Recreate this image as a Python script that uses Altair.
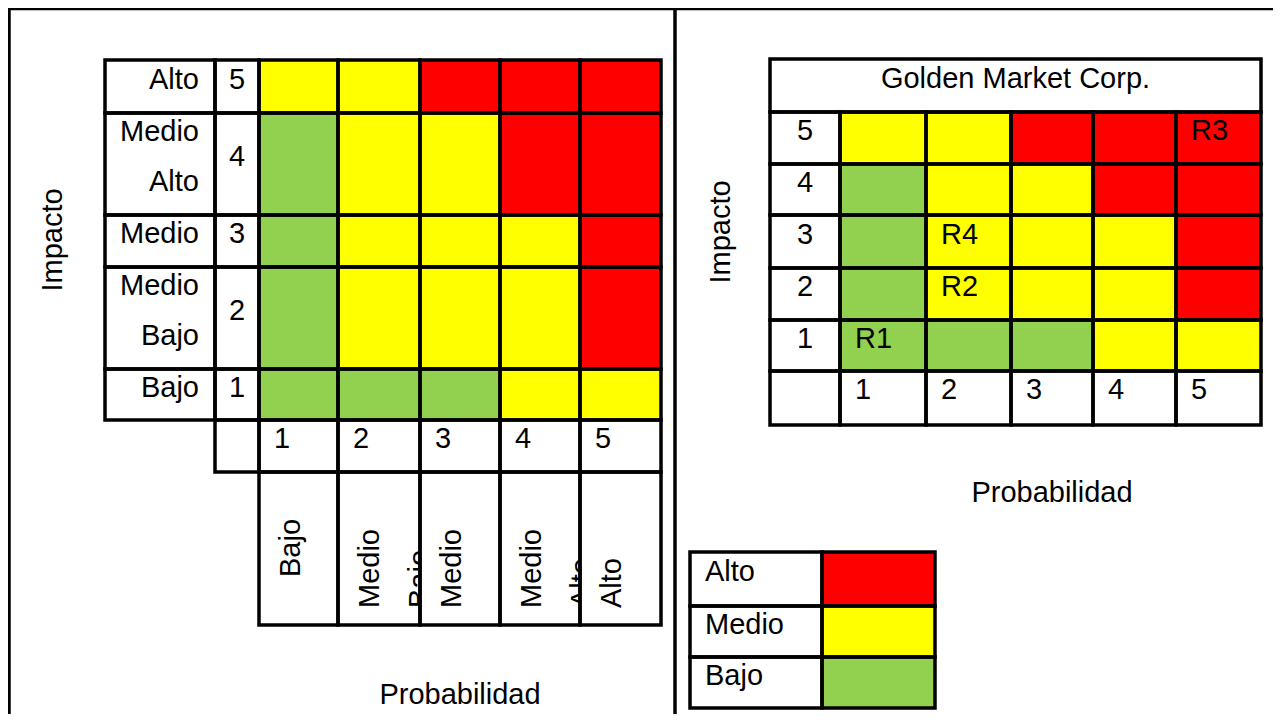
import altair as alt
import pandas as pd

# ---------------- data ----------------
levels = ["Alto", "Medio", "Bajo"]
level_colors = ["#FF0000", "#FFFF00", "#92D050"]
impact_values = [5, 4, 3, 2, 1]
prob_values = [1, 2, 3, 4, 5]
# risk level per cell: rows = impact 5..1, columns = probability 1..5
matrix = [
    ["Medio", "Medio", "Alto", "Alto", "Alto"],
    ["Bajo", "Medio", "Medio", "Alto", "Alto"],
    ["Bajo", "Medio", "Medio", "Medio", "Alto"],
    ["Bajo", "Medio", "Medio", "Medio", "Alto"],
    ["Bajo", "Bajo", "Bajo", "Medio", "Medio"],
]
impact_labels = [["Alto"], ["Medio", "Alto"], ["Medio"], ["Medio", "Bajo"], ["Bajo"]]
prob_labels = [["Bajo"], ["Medio", "Bajo"], ["Medio"], ["Medio", "Alto"], ["Alto"]]
risk_names = ["R1", "R2", "R3", "R4"]
risk_prob = [1, 2, 5, 2]
risk_impact = [1, 2, 5, 3]
company = "Golden Market Corp."
title_impact = "Impacto"
title_prob = "Probabilidad"

# ---------------- layout (page pixels) ----------------
W, H = 1265, 706
ORG = 8
FONT = "Liberation Sans"
FS = 29
LW = 3.5
L_x = [105, 215, 259, 338, 420, 500, 580, 661]
L_y = [60, 113, 215, 267, 369, 420, 472, 625]
L_rot_start = [577, 608, 608, 608, 608]
R_x = [770, 840, 926, 1011, 1093, 1176, 1261]
R_y = [59, 112, 164, 215, 268, 320, 371, 425]
G_x = [690, 822, 935]
G_y = [552, 606, 657, 708]
frame = [(7.3, 8.5, 1300, 8.5), (9, 6.8, 9, 740), (675, 8.5, 675, 740)]
axis_titles = [  # (x, y, text, rotated)
    (53, 240, title_impact, True),
    (460, 695, title_prob, False),
    (721, 232, title_impact, True),
    (1052, 493, title_prob, False),
]

cells, t_center, t_left, t_right, t_rot_c, t_rot_l, t_clip = [], [], [], [], [], [], []


def cell(x, x2, y, y2, level=None, src=False):
    cells.append(dict(x=x, x2=x2, y=y, y2=y2, level=level, src=src))


# ---- left matrix ----
for i, imp in enumerate(impact_values):
    y0, y1 = L_y[i], L_y[i + 1]
    cy = (y0 + y1) / 2
    cell(L_x[0], L_x[1], y0, y1)
    cell(L_x[1], L_x[2], y0, y1)
    lines = impact_labels[i]
    offs = [-7] if len(lines) == 1 else [-32, 18]
    for ln, o in zip(lines, offs):
        t_right.append(dict(x=L_x[1] - 16, y=cy + o, t=ln))
    t_center.append(dict(x=(L_x[1] + L_x[2]) / 2, y=cy - 7, t=str(imp)))
    for j in range(5):
        cell(L_x[2 + j], L_x[3 + j], y0, y1, matrix[i][j])
cell(L_x[1], L_x[2], L_y[5], L_y[6])
for j, p in enumerate(prob_values):
    cell(L_x[2 + j], L_x[3 + j], L_y[5], L_y[6])
    t_left.append(dict(x=L_x[2 + j] + 15, y=(L_y[5] + L_y[6]) / 2 - 7, t=str(p)))
    lines = prob_labels[j]
    cell(L_x[2 + j], L_x[3 + j], L_y[6], L_y[7], src=len(lines) > 1)
    t_rot_l.append(dict(x=L_x[2 + j] + 41, y=L_rot_start[j], t=lines[0]))
    if len(lines) > 1:
        t_clip.append(dict(x=L_x[2 + j] + 91, y=L_rot_start[j], t=lines[1]))

# ---- right matrix ----
cell(R_x[0], R_x[6], R_y[0], R_y[1])
t_center.append(dict(x=(R_x[0] + R_x[6]) / 2, y=(R_y[0] + R_y[1]) / 2 - 7, t=company))
for i, imp in enumerate(impact_values):
    y0, y1 = R_y[1 + i], R_y[2 + i]
    cell(R_x[0], R_x[1], y0, y1)
    t_center.append(dict(x=(R_x[0] + R_x[1]) / 2, y=(y0 + y1) / 2 - 7, t=str(imp)))
    for j in range(5):
        cell(R_x[1 + j], R_x[2 + j], y0, y1, matrix[i][j])
cell(R_x[0], R_x[1], R_y[6], R_y[7])
for j, p in enumerate(prob_values):
    cell(R_x[1 + j], R_x[2 + j], R_y[6], R_y[7])
    t_left.append(dict(x=R_x[1 + j] + 15, y=(R_y[6] + R_y[7]) / 2 - 8, t=str(p)))
for name, p, imp in zip(risk_names, risk_prob, risk_impact):
    i = impact_values.index(imp)
    j = prob_values.index(p)
    t_left.append(dict(x=R_x[1 + j] + 15, y=(R_y[1 + i] + R_y[2 + i]) / 2 - 7, t=name))

# ---- legend ----
for k, lev in enumerate(levels):
    cell(G_x[0], G_x[1], G_y[k], G_y[k + 1])
    cell(G_x[1], G_x[2], G_y[k], G_y[k + 1], lev)
    t_left.append(dict(x=G_x[0] + 15, y=(G_y[k] + G_y[k + 1]) / 2 - 7, t=lev))

# ---- axis titles ----
for x, y, t, rot in axis_titles:
    (t_rot_c if rot else t_center).append(dict(x=x, y=y, t=t))

cells_df = pd.DataFrame(cells)
white_df = cells_df[cells_df["level"].isna() & ~cells_df["src"]][["x", "x2", "y", "y2"]]
color_df = cells_df[cells_df["level"].notna()][["x", "x2", "y", "y2", "level"]]
grid_df = cells_df[["x", "x2", "y", "y2"]]
frame_df = pd.DataFrame(frame, columns=["x", "y", "x2", "y2"])

xs = alt.Scale(domain=[ORG, ORG + W], nice=False, zero=False)
ys = alt.Scale(domain=[ORG, ORG + H], nice=False, zero=False, reverse=True)
X = alt.X("x:Q", scale=xs, axis=None)
Y = alt.Y("y:Q", scale=ys, axis=None)
X2 = alt.X2("x2:Q")
Y2 = alt.Y2("y2:Q")


def text_layer(rows, **kw):
    return alt.Chart(pd.DataFrame(rows)).mark_text(
        font=FONT, fontSize=FS, color="black", **kw
    ).encode(x=X, y=Y, text="t:N")


frame_layer = alt.Chart(frame_df).mark_rule(
    color="black", strokeWidth=LW, strokeCap="square"
).encode(x=X, y=Y, x2=X2, y2=Y2)
clip_layer = text_layer(t_clip, align="left", baseline="alphabetic", angle=270)
white_layer = alt.Chart(white_df).mark_rect(color="white").encode(x=X, y=Y, x2=X2, y2=Y2)
color_layer = alt.Chart(color_df).mark_rect().encode(
    x=X, y=Y, x2=X2, y2=Y2,
    color=alt.Color("level:N", scale=alt.Scale(domain=levels, range=level_colors), legend=None),
)
grid_layer = alt.Chart(grid_df).mark_rect(
    fillOpacity=0, stroke="black", strokeWidth=LW
).encode(x=X, y=Y, x2=X2, y2=Y2)

chart = alt.layer(
    frame_layer,
    clip_layer,
    white_layer,
    color_layer,
    text_layer(t_center, align="center", baseline="middle"),
    text_layer(t_left, align="left", baseline="middle"),
    text_layer(t_right, align="right", baseline="middle"),
    text_layer(t_rot_c, align="center", baseline="middle", angle=270),
    text_layer(t_rot_l, align="left", baseline="alphabetic", angle=270),
    grid_layer,
).properties(
    width=W, height=H, autosize=alt.AutoSizeParams(type="none"), padding=0
).configure_view(stroke=None)

chart.save("out.html", embed_options={"renderer": "svg", "actions": False})
